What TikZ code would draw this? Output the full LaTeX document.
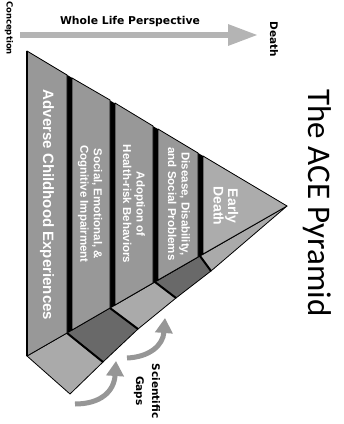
\documentclass[tikz,border=0pt]{standalone}
\usepackage{fontspec}
\setmainfont{Liberation Sans}
\newfontfamily\titlefont{Carlito}
\newfontfamily\smallfont{DejaVu Sans}
\usepackage{tikz}
\usetikzlibrary{arrows.meta}
\usepackage{xcolor}
\definecolor{facegray}{RGB}{152,152,152}
\definecolor{facelight}{RGB}{172,172,172}
\definecolor{sidelight}{RGB}{170,170,170}
\definecolor{sidedark}{RGB}{105,105,105}
\definecolor{lifegray}{RGB}{180,180,180}
\definecolor{gapgray}{RGB}{150,150,150}
\tikzset{layerface/.style={fill=facegray, draw=black, line width=0.8pt},sideface/.style={fill=sidelight, draw=black, line width=0.8pt}}
\tikzset{layertext/.style={rotate=-90, text=white, align=center, font=\bfseries\fontsize{11.5}{13.5}\selectfont},sidelabel/.style={rotate=-90, font=\smallfont\bfseries\fontsize{8.5}{10}\selectfont}}

\begin{document}
\begin{tikzpicture}[
        line join=round,
        layerface/.style={fill=facegray, draw=black, line width=0.8pt},
        sideface/.style={fill=sidelight, draw=black, line width=0.8pt},
        gaparrow/.style={gapgray, line width=5pt, -{Triangle[width=17pt, length=15pt]}}
    ]
        \useasboundingbox (0pt, 0pt) rectangle (344pt, -424pt);
        % Whole life arrow
        \coordinate (conception) at (20pt, -35pt);
        \coordinate (death) at (258pt, -35pt);
        \draw[lifegray, line width=6pt, -{Triangle[width=20pt, length=30pt]}] (conception) -- (death);
        \node[font=\smallfont\bfseries\fontsize{10.8}{12}\selectfont] (perspective) at (130pt, -22pt) {Whole Life Perspective};
        \node[sidelabel] (conceptionlabel) at (9pt, -28pt) {Conception};
        \node[sidelabel, font=\smallfont\bfseries\fontsize{10.5}{12}\selectfont] (deathlabel) at (274pt, -39pt) {Death};
        % Side faces
        \filldraw[sideface] (27pt, -356pt) -- (67pt, -333pt) -- (103pt, -362pt) -- (70pt, -394pt) -- cycle;
        \filldraw[sideface, fill=sidedark] (67pt, -333pt) -- (110pt, -308pt) -- (138pt, -329pt) -- (103pt, -362pt) -- cycle;
        \filldraw[sideface] (110pt, -308pt) -- (155pt, -282pt) -- (176pt, -298pt) -- (138pt, -329pt) -- cycle;
        \filldraw[sideface, fill=sidedark] (155pt, -282pt) -- (200pt, -256pt) -- (211pt, -271pt) -- (176pt, -298pt) -- cycle;
        \filldraw[sideface] (200pt, -256pt) -- (287pt, -206pt) -- (211pt, -271pt) -- cycle;
        \draw[line width=2pt] (67pt, -333pt) -- (103pt, -362pt);
        \draw[line width=2pt] (110pt, -308pt) -- (138pt, -329pt);
        \draw[line width=2pt] (155pt, -282pt) -- (176pt, -298pt);
        \draw[line width=2pt] (200pt, -256pt) -- (211pt, -271pt);
        % Front faces
        \fill[black] (27pt, -51pt) -- (287pt, -206pt) -- (27pt, -356pt) -- cycle;
        \filldraw[layerface] (27pt, -51pt) -- (67pt, -75pt) -- (67pt, -333pt) -- (27pt, -356pt) -- cycle;
        \filldraw[layerface] (72pt, -78pt) -- (110pt, -100pt) -- (110pt, -308pt) -- (72pt, -330pt) -- cycle;
        \filldraw[layerface] (115pt, -103pt) -- (153pt, -126pt) -- (153pt, -283pt) -- (115pt, -305pt) -- cycle;
        \filldraw[layerface] (158pt, -129pt) -- (198pt, -153pt) -- (198pt, -257pt) -- (158pt, -280pt) -- cycle;
        \filldraw[layerface, fill=facelight] (203pt, -156pt) -- (287pt, -206pt) -- (203pt, -254pt) -- cycle;
        \draw[line width=1.2pt] (27pt, -51pt) -- (27pt, -356pt);
        % Layer labels
        \node[layertext, font=\bfseries\fontsize{15}{18}\selectfont] (adverse) at (47pt, -205pt) {Adverse Childhood Experiences};
        \foreach \x/\name/\txt in {
            90/impairment/{Social, Emotional, \&\\Cognitive Impairment},
            134/behaviors/{Adoption of\\Health-risk Behaviors},
            179/disease/{Disease, Disability,\\and Social Problems}} {
            \node[layertext] (\name) at (\x pt, -204pt) {\txt};
        }
        \node[layertext, font=\bfseries\fontsize{14}{14.5}\selectfont] (earlydeath) at (226pt, -206pt) {Early\\Death};
        % Scientific gaps
        \coordinate (gapatail) at (75pt, -404pt);
        \coordinate (gapatip) at (116pt, -361pt);
        \coordinate (gapbtail) at (127pt, -358pt);
        \coordinate (gapbtip) at (165pt, -318pt);
        \draw[gaparrow] (gapatail) .. controls (100pt, -404pt) and (114pt, -392pt) .. (gapatip);
        \draw[gaparrow] (gapbtail) .. controls (150pt, -357pt) and (163pt, -345pt) .. (gapbtip);
        \node[rotate=-90, align=center, font=\smallfont\bfseries\fontsize{10.5}{16}\selectfont] (gaps) at (147pt, -391pt) {Scientific\\Gaps};
        % Title
        \node[rotate=-90, font=\titlefont\fontsize{33}{36}\selectfont] (title) at (317pt, -203pt) {The ACE Pyramid};
    \end{tikzpicture}
\end{document}
